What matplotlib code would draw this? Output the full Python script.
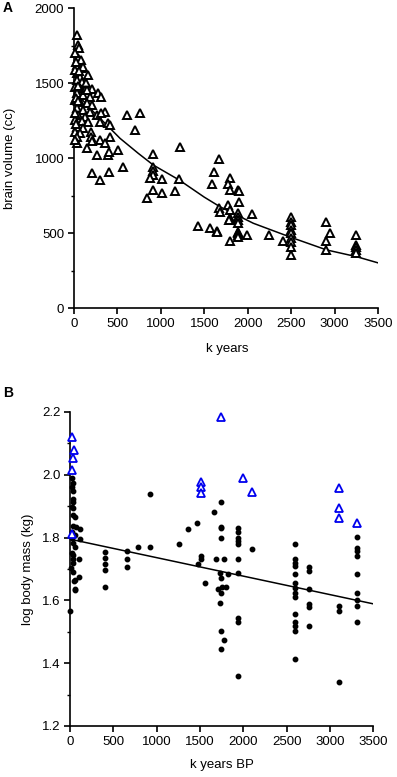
import matplotlib
matplotlib.use("Agg")
import matplotlib.pyplot as plt
from matplotlib.ticker import MultipleLocator, FormatStrFormatter

plt.rcParams['font.family'] = ['Liberation Sans', 'DejaVu Sans']

# ---------------- Panel A data: brain volume (cc) vs k years ----------------
a_x = [31, 42, 57, 42, 81, 31, 81, 107, 31, 69, 157, 31, 88, 134,
       12, 69, 127, 211, 31, 107, 184, 280, 311, 12, 69, 146, 203,
       31, 107, 184, 357, 50, 127, 261, 311, 12, 88, 165, 300, 395,
       31, 107, 414, 12, 69, 196, 31, 196, 414, 31, 203, 300, 357,
       146, 503, 261, 395, 12, 20, 12, 20, 8, 20, 12, 50, 50, 60, 153,
       607, 760, 702, 560, 405, 403, 300, 203,
       845, 906, 913, 913, 906, 880, 1017, 913, 1017, 1163, 1213, 1220,
       1431, 1566, 1643, 1650, 1585, 1616, 1666, 1666, 1681, 1777, 1796,
       1796, 1777, 1796, 1892, 1796, 1796, 1788, 1796, 1892, 1892, 1892,
       1892, 1900, 1900, 1892, 1892, 1892, 1892, 1996, 2046, 2249, 2402,
       2500, 2500, 2500, 2500, 2500, 2500, 2500, 2500, 2500,
       2900, 2900, 2900, 2947,
       3250, 3250, 3250, 3250, 3250]
a_y = [1822, 1755, 1733, 1671, 1655, 1622, 1600, 1611, 1567, 1544, 1555, 1522, 1511, 1500,
       1477, 1467, 1455, 1462, 1433, 1422, 1411, 1433, 1411, 1389, 1373, 1367, 1355,
       1333, 1322, 1311, 1311, 1289, 1277, 1289, 1300, 1255, 1249, 1240, 1244, 1233,
       1211, 1200, 1222, 1178, 1167, 1178, 1144, 1144, 1144, 1100, 1115, 1122, 1100,
       1067, 1055, 1022, 1022, 1700, 1640, 1590, 1400, 1300, 1230, 1120, 1380, 1480, 1580, 1455,
       1289, 1304, 1189, 944, 1040, 911, 855, 900,
       735, 1029, 944, 913, 887, 870, 862, 789, 771, 784, 862, 1077,
       549, 537, 515, 511, 829, 911, 995, 667, 644, 689, 655,
       867, 829, 789, 789, 600, 589, 589, 449, 633, 611, 589,
       567, 711, 784, 511, 500, 489, 473, 489, 629, 489, 451,
       611, 577, 555, 522, 500, 467, 444, 411, 355,
       577, 451, 389, 504,
       489, 422, 407, 389, 367]

# fitted curve, points
a_fit_x = [0, 150, 222, 434, 530, 740, 913, 1212, 1500, 1681, 2064, 2498, 2909, 3254, 3500]
a_fit_y = [1450, 1356, 1311, 1189, 1133, 1033, 955, 855, 741, 677, 567, 473, 389, 344, 303]

# ---------------- Panel B data: log body mass (kg) vs k years BP ----------------
b_dot_x = [20, 31, 20, 38, 31, 38, 20, 38, 31, 58, 38, 69, 115, 20, 58, 20, 115, 31, 58,
           20, 38, 31, 107, 38, 8, 31, 58, 107, 58, 0, 46, 58,
           404, 404, 404, 404, 404, 654, 654, 654, 788, 923, 923,
           1262, 1365, 1462, 1508, 1508, 1481, 1558,
           1665, 1742, 1742, 1742, 1742, 1681, 1781, 1731, 1742, 1827,
           1750, 1800, 1712, 1742, 1731, 1742, 1781, 1742,
           1942, 1942, 1942, 1942, 1942, 1942, 1942, 1942, 1942, 1942, 2096,
           2600, 2600, 2600, 2600, 2600, 2600, 2600, 2600, 2600, 2600, 2600, 2600, 2600, 2600,
           2754, 2754, 2754, 2754, 2754, 2754,
           3104, 3104, 3104,
           3308, 3308, 3308, 3308, 3308, 3308, 3308, 3308, 3308]
b_dot_y = [1.989, 1.975, 1.960, 1.949, 1.922, 1.914, 1.898, 1.893, 1.872, 1.865, 1.837, 1.833, 1.826,
           1.819, 1.808, 1.798, 1.795, 1.784, 1.771, 1.750, 1.745, 1.731, 1.731, 1.718, 1.702,
           1.691, 1.665, 1.674, 1.633, 1.567, 1.663, 1.635,
           1.755, 1.736, 1.716, 1.697, 1.644, 1.758, 1.731, 1.705, 1.769, 1.769, 1.939,
           1.780, 1.826, 1.847, 1.741, 1.731, 1.716, 1.654,
           1.881, 1.914, 1.835, 1.830, 1.798, 1.731, 1.731, 1.688, 1.672, 1.683,
           1.644, 1.644, 1.635, 1.625, 1.591, 1.503, 1.474, 1.445,
           1.832, 1.819, 1.800, 1.789, 1.779, 1.731, 1.686, 1.543, 1.532, 1.359, 1.764,
           1.780, 1.731, 1.720, 1.710, 1.684, 1.654, 1.640, 1.623, 1.610, 1.557, 1.532, 1.518, 1.504, 1.412,
           1.705, 1.695, 1.635, 1.589, 1.580, 1.518,
           1.582, 1.567, 1.341,
           1.803, 1.766, 1.758, 1.741, 1.683, 1.625, 1.601, 1.582, 1.532]
b_tri_x = [20, 46, 38, 20, 27, 1742, 1508, 1508, 1508, 1992, 2096, 3104, 3104, 3104, 3308]
b_tri_y = [2.119, 2.079, 2.053, 2.015, 1.811, 2.183, 1.978, 1.960, 1.941, 1.991, 1.946,
           1.957, 1.894, 1.861, 1.846]

b_fit_x = [0, 3500]
b_fit_y = [1.795, 1.589]

W, H = 397, 777
fig = plt.figure(figsize=(W / 100, H / 100), dpi=100)

FS = 9.5


def style(ax):
    for s in ('top', 'right'):
        ax.spines[s].set_visible(False)
    for s in ('left', 'bottom'):
        ax.spines[s].set_linewidth(1.2)
    ax.tick_params(axis='both', which='major', direction='out', length=4, width=1.2,
                   labelsize=FS, pad=3)
    ax.tick_params(axis='y', which='minor', direction='out', length=2.5, width=1.0)
    ax.tick_params(axis='x', which='minor', length=0)


# Panel A
axA = fig.add_axes([74 / W, 1 - 308.3 / H, 304 / W, 300 / H])
axA.plot(a_fit_x, a_fit_y, color='black', lw=1.1, zorder=2)
axA.plot(a_x, a_y, linestyle='none', marker='^', ms=6.3, mfc='white', mec='black',
         mew=1.4, clip_on=False, zorder=3)
axA.set_xlim(0, 3500)
axA.set_ylim(0, 2000)
axA.xaxis.set_major_locator(MultipleLocator(500))
axA.yaxis.set_major_locator(MultipleLocator(500))
axA.yaxis.set_minor_locator(MultipleLocator(250))
style(axA)
axA.set_ylabel('brain volume (cc)', fontsize=FS)
axA.yaxis.set_label_coords(-0.19, 0.5)
axA.set_xlabel('k years', fontsize=FS)
axA.xaxis.set_label_coords(0.503, -0.116)

# Panel B
axB = fig.add_axes([70 / W, 1 - 726 / H, 303.3 / W, 314 / H])
axB.plot(b_fit_x, b_fit_y, color='black', lw=1.1, zorder=2)
axB.plot(b_dot_x, b_dot_y, linestyle='none', marker='o', ms=3.2, mfc='black', mec='black',
         clip_on=False, zorder=3)
axB.plot(b_tri_x, b_tri_y, linestyle='none', marker='^', ms=5.5, mfc='white', mec='#0000ee',
         mew=1.3, clip_on=False, zorder=4)
axB.set_xlim(0, 3500)
axB.set_ylim(1.2, 2.2)
axB.xaxis.set_major_locator(MultipleLocator(500))
axB.yaxis.set_major_locator(MultipleLocator(0.2))
axB.yaxis.set_minor_locator(MultipleLocator(0.1))
axB.yaxis.set_major_formatter(FormatStrFormatter('%.1f'))
style(axB)
axB.set_ylabel('log body mass (kg)', fontsize=FS)
axB.yaxis.set_label_coords(-0.119, 0.5)
axB.set_xlabel('k years BP', fontsize=FS)
axB.xaxis.set_label_coords(0.5, -0.105)

fig.text(3 / W, 1 - 12 / H, 'A', fontsize=10, fontweight='bold', ha='left', va='baseline')
fig.text(3 / W, 1 - 397 / H, 'B', fontsize=10, fontweight='bold', ha='left', va='baseline')

fig.savefig('out.png', dpi=100)
